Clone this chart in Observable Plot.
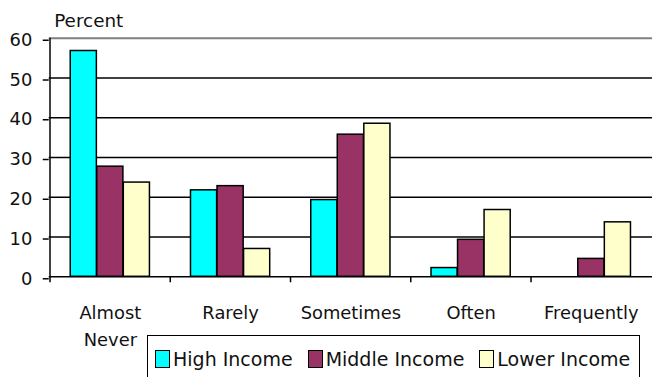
<!DOCTYPE html>
<html>
<head>
<meta charset="utf-8">
<script src="https://cdn.jsdelivr.net/npm/d3@7"></script>
<script src="https://cdn.jsdelivr.net/npm/@observablehq/plot@0.6"></script>
<style>
  html, body { margin: 0; padding: 0; background: #fff; overflow: hidden; }
  #wrap { position: relative; width: 652px; height: 377px; overflow: hidden; font-family: "DejaVu Sans", sans-serif; }
  #legend {
    position: absolute; left: 147px; top: 335px; width: 493px; height: 60px;
    border: 1.5px solid #000; box-sizing: border-box; background: #fff;
    display: flex; align-items: flex-start; padding: 12px 0 0 7px;
    font-size: 19px; color: #111; white-space: nowrap;
  }
  #legend .item { display: flex; align-items: center; margin-right: 15px; }
  #legend .sw { width: 15px; height: 18px; border: 1.5px solid #000; margin-right: 3px; box-sizing: border-box; }
</style>
</head>
<body>
<div id="wrap">
  <div id="chart"></div>
  <div id="legend"></div>
</div>
<script>
// Frequency categories along the x axis
const categories = ["Almost Never", "Rarely", "Sometimes", "Often", "Frequently"];
const categoryLabels = ["Almost\nNever", "Rarely", "Sometimes", "Often", "Frequently"];

// Income groups and their percentages per category
const series = ["High Income", "Middle Income", "Lower Income"];
const highIncome = [56.8, 21.75, 19.3, 2.2, 0];
const middleIncome = [27.7, 22.8, 35.75, 9.3, 4.5];
const lowerIncome = [23.7, 7.0, 38.5, 16.8, 13.7];
const seriesValues = [highIncome, middleIncome, lowerIncome];
const colors = ["#00FFFF", "#993366", "#FFFFCC"];

// y axis ticks and gridlines
const yTicks = [0, 10, 20, 30, 40, 50, 60];
const gridLines = [10, 20, 30, 40, 50];

const width = 656, height = 377;
const marginLeft = 49, marginRight = 0, marginTop = 38, marginBottom = 99;
const step = (width - marginLeft - marginRight) / categories.length;
const barWidth = 26.7;
const groupWidth = barWidth * series.length;

const labelOf = new Map(categories.map((c, i) => [c, categoryLabels[i]]));

// one bar mark per income group, offset inside each category band
const bars = seriesValues.map((vals, i) => {
  const rows = categories.map((c, j) => ({category: c, series: series[i], value: vals[j]}));
  const insetLeft = (step - groupWidth) / 2 + i * barWidth;
  return Plot.barY(rows, {
    x: "category", y: "value",
    fill: colors[i], stroke: "#000", strokeWidth: 1.5,
    insetLeft, insetRight: step - insetLeft - barWidth
  });
});

const chart = Plot.plot({
  width, height, marginLeft, marginRight, marginTop, marginBottom,
  style: {fontFamily: "DejaVu Sans, sans-serif", fontSize: "18px", color: "#111", background: "transparent", overflow: "visible"},
  x: {domain: categories, padding: 0, axis: null},
  y: {domain: [0, 60], axis: null},
  marks: [
    Plot.ruleY(gridLines, {stroke: "#000", strokeWidth: 1.5}),
    Plot.ruleY([60], {stroke: "#808080", strokeWidth: 2}),
    ...bars,
    Plot.ruleY([0], {stroke: "#000", strokeWidth: 1.5}),
    Plot.ruleX([categories[0]], {x: d => d, dx: -step / 2, y1: 0, y2: 60, stroke: "#000", strokeWidth: 1.5}),
    Plot.axisY({ticks: yTicks, tickSize: 6, tickPadding: 11, dy: 2, label: null, stroke: "#000", strokeWidth: 1.5}),
    Plot.axisX({tickSize: 6, tickFormat: () => "", dx: -step / 2, label: null, stroke: "#000", strokeWidth: 1.5}),
    Plot.axisX({tickSize: 0, tickPadding: 23, tickFormat: d => labelOf.get(d), lineHeight: 1.5, label: null}),
    Plot.text(["Percent"], {frameAnchor: "top-left", textAnchor: "start", lineAnchor: "middle", dx: 5, dy: -17, fontSize: 18.5, fill: "#111"})
  ]
});
document.getElementById("chart").appendChild(chart);

// Legend
const legend = document.getElementById("legend");
series.forEach((s, i) => {
  const item = document.createElement("div");
  item.className = "item";
  const sw = document.createElement("span");
  sw.className = "sw";
  sw.style.background = colors[i];
  const label = document.createElement("span");
  label.textContent = s;
  item.appendChild(sw);
  item.appendChild(label);
  legend.appendChild(item);
});
</script>
</body>
</html>
